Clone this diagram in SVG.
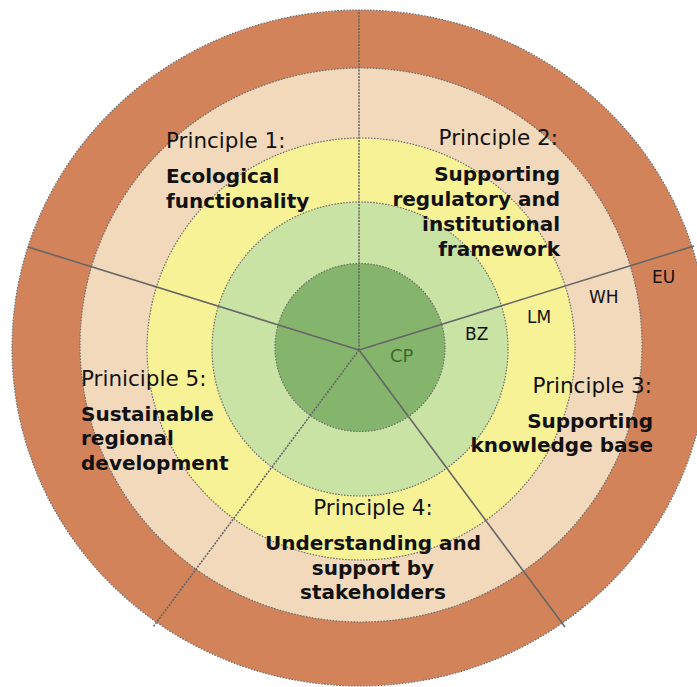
<svg xmlns="http://www.w3.org/2000/svg" width="697" height="687" viewBox="0 0 697 687">
  <style>
    .ring { stroke: #6f6f6f; stroke-width: 1.2; stroke-dasharray: 1.6 1.4; }
    .spoke { stroke: #666666; stroke-width: 1.6; fill: none; }
    .dotted { stroke-dasharray: 2 1.2; }
    .head { font-family: "DejaVu Sans", Verdana, sans-serif; font-size: 21.5px; fill: #111111; }
    .desc { font-family: "DejaVu Sans", Verdana, sans-serif; font-size: 20px; font-weight: bold; fill: #111111; }
    .lvl { font-family: "DejaVu Sans", Verdana, sans-serif; font-size: 17px; fill: #111111; }
  </style>
  <rect width="697" height="687" fill="#ffffff"/>

  <!-- concentric scale rings, outermost first -->
  <g id="rings">
    <ellipse id="ring-eu" class="ring" cx="360" cy="348" rx="348" ry="338" fill="#d3835a"/>
    <ellipse id="ring-wh" class="ring" cx="361" cy="345" rx="281" ry="277" fill="#f2d9bb"/>
    <ellipse id="ring-lm" class="ring" cx="361" cy="349" rx="214" ry="211" fill="#f8f297"/>
    <ellipse id="ring-bz" class="ring" cx="360" cy="349" rx="148" ry="147" fill="#c9e3a5"/>
    <ellipse id="ring-cp" class="ring" cx="360" cy="347.5" rx="85" ry="84" fill="#85b56d"/>
  </g>

  <!-- sector dividers -->
  <g id="connectors">
    <line class="spoke dotted" x1="359" y1="350" x2="359" y2="10"/>
    <line class="spoke" x1="359" y1="350" x2="694" y2="246"/>
    <line class="spoke" x1="359" y1="350" x2="565" y2="627"/>
    <line class="spoke dotted" x1="359" y1="350" x2="153" y2="627"/>
    <line class="spoke" x1="359" y1="350" x2="28" y2="247"/>
  </g>

  <!-- ring level labels -->
  <g id="levels">
    <text class="lvl" x="390" y="362" style="font-size:18px; fill:#3d6a2a">CP</text>
    <text class="lvl" x="465" y="340">BZ</text>
    <text class="lvl" x="527" y="323">LM</text>
    <text class="lvl" x="589" y="303">WH</text>
    <text class="lvl" x="652" y="283">EU</text>
  </g>

  <g id="principle-1">
    <text class="head" x="166" y="148">Principle 1:</text>
    <text class="desc" x="166" y="183">Ecological</text>
    <text class="desc" x="166" y="208">functionality</text>
  </g>

  <g id="principle-2" text-anchor="end">
    <text class="head" x="558" y="145">Principle 2:</text>
    <text class="desc" x="560" y="181">Supporting</text>
    <text class="desc" x="560" y="206">regulatory and</text>
    <text class="desc" x="560" y="231">institutional</text>
    <text class="desc" x="560" y="256">framework</text>
  </g>

  <g id="principle-3" text-anchor="end">
    <text class="head" x="652" y="393">Principle 3:</text>
    <text class="desc" x="653" y="428">Supporting</text>
    <text class="desc" x="653" y="452">knowledge base</text>
  </g>

  <g id="principle-4" text-anchor="middle">
    <text class="head" x="373" y="515">Principle 4:</text>
    <text class="desc" x="373" y="550">Understanding and</text>
    <text class="desc" x="373" y="575">support by</text>
    <text class="desc" x="373" y="599">stakeholders</text>
  </g>

  <g id="principle-5">
    <text class="head" x="81" y="386">Priniciple 5:</text>
    <text class="desc" x="81" y="421">Sustainable</text>
    <text class="desc" x="81" y="445">regional</text>
    <text class="desc" x="81" y="470">development</text>
  </g>
</svg>
